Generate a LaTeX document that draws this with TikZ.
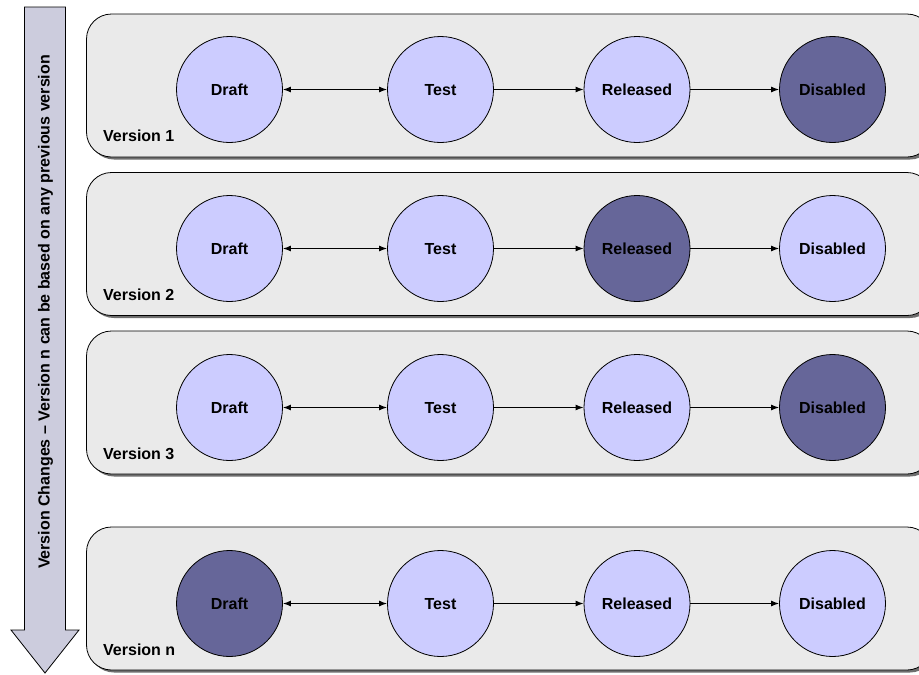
\documentclass[tikz,border=0pt]{standalone}
\usepackage{fontspec}
\setmainfont{Liberation Sans}
\usetikzlibrary{arrows.meta,shadows}
\definecolor{panelfill}{HTML}{EAEAEA}
\definecolor{lightstate}{HTML}{CCCCFF}
\definecolor{darkstate}{HTML}{666699}
\definecolor{arrowfill}{HTML}{CCCCDD}
\definecolor{shadowgray}{HTML}{6E6E6E}
\begin{document}
\begin{tikzpicture}[x=1pt,y=-1pt,
  txt/.style={font=\fontsize{16}{19}\selectfont\bfseries},
  panel/.style={draw=black,line width=0.8pt,fill=panelfill,rounded corners=25pt},
  pshadow/.style={fill=shadowgray,rounded corners=25pt},
  state/.style={circle,draw=black,line width=0.8pt,minimum size=106pt,inner sep=0pt,txt,text height=11pt,text depth=-1pt},
  lightst/.style={state,fill=lightstate},
  darkst/.style={state,fill=darkstate},
  conn/.style={line width=1.2pt,-{Latex[length=8pt,width=6pt]}},
  dconn/.style={line width=1.2pt,{Latex[length=8pt,width=6pt]}-{Latex[length=8pt,width=6pt]}},
  vlabel/.style={txt,anchor=west,inner sep=0pt}
]
\useasboundingbox (0,0) rectangle (919,675);
\clip (0,0) rectangle (919,675);
\fill[white] (0,0) rectangle (919,675);
% big down arrow
\draw[fill=arrowfill,line width=0.8pt] (24.5,7) -- (65.5,7) -- (65.5,630) -- (79,630) -- (45,673) -- (11,630) -- (24.5,630) -- cycle;
\node[txt,rotate=90] (vtext) at (45.5,312) {Version Changes – Version n can be based on any previous version};
% panels
\foreach \t/\b in {14/157, 172.5/315.5, 331/474, 527/670}{
  \fill[pshadow] (89,\t+2.5) rectangle (935,\b+2.5);
  \draw[panel] (86.5,\t) rectangle (932,\b);
}
% row 1
\node[lightst] (d1) at (229.5,89.5) {Draft};
\node[lightst] (t1) at (440.5,89.5) {Test};
\node[lightst] (r1) at (637,89.5) {Released};
\node[darkst]  (x1) at (832.5,89.5) {Disabled};
\node[vlabel] (l1) at (103,136) {Version 1};
% row 2
\node[lightst] (d2) at (229.5,248.5) {Draft};
\node[lightst] (t2) at (440.5,248.5) {Test};
\node[darkst]  (r2) at (637,248.5) {Released};
\node[lightst] (x2) at (832.5,248.5) {Disabled};
\node[vlabel] (l2) at (103,295) {Version 2};
% row 3
\node[lightst] (d3) at (229.5,407.5) {Draft};
\node[lightst] (t3) at (440.5,407.5) {Test};
\node[lightst] (r3) at (637,407.5) {Released};
\node[darkst]  (x3) at (832.5,407.5) {Disabled};
\node[vlabel] (l3) at (103,453.5) {Version 3};
% row n
\node[darkst]  (d4) at (229.5,603.5) {Draft};
\node[lightst] (t4) at (440.5,603.5) {Test};
\node[lightst] (r4) at (637,603.5) {Released};
\node[lightst] (x4) at (832.5,603.5) {Disabled};
\node[vlabel] (l4) at (103,650) {Version n};
% connectors
\foreach \i in {1,2,3,4}{
  \draw[dconn] (d\i) -- (t\i);
  \draw[conn] (t\i) -- (r\i);
  \draw[conn] (r\i) -- (x\i);
}
\end{tikzpicture}
\end{document}
